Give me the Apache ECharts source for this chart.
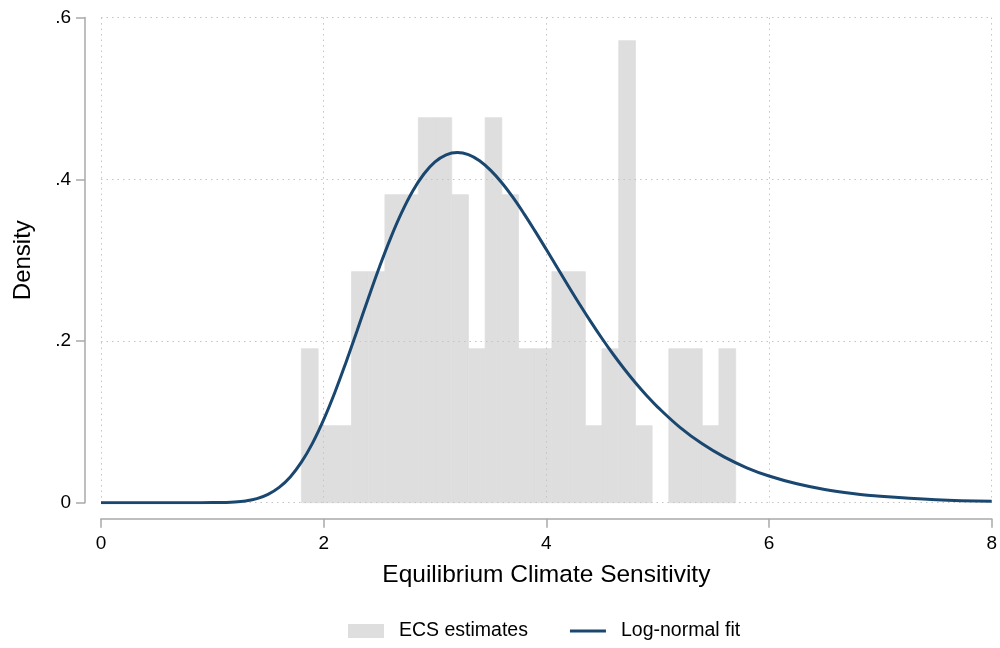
<!DOCTYPE html>
<html>
<head>
<meta charset="utf-8">
<script src="https://cdn.jsdelivr.net/npm/echarts@6/dist/echarts.min.js"></script>
<style>
  html, body { margin: 0; padding: 0; background: #fff; }
  #chart { width: 1000px; height: 648px; }
</style>
</head>
<body>
<div id="chart"></div>
<script>
// histogram of ECS estimates: left bin edges and counts (bin width .15)
var binLeft = [1.80, 1.95, 2.10, 2.25, 2.40, 2.55, 2.70, 2.85, 3.00, 3.15, 3.30, 3.45, 3.60,
               3.75, 3.90, 4.05, 4.20, 4.35, 4.50, 4.65, 4.80, 4.95, 5.10, 5.25, 5.40, 5.55];
var binCounts = [2, 1, 1, 3, 3, 4, 4, 5, 5, 4, 2, 5, 4,
                 2, 2, 3, 3, 1, 2, 6, 1, 0, 2, 2, 1, 2];
var binWidth = 0.15;

// log-normal fit
var fitX = [0, 0.5, 0.8, 1.0, 1.1, 1.2, 1.3, 1.4, 1.5, 1.6, 1.7, 1.8, 1.9, 2.0, 2.1, 2.2, 2.3, 2.4,
            2.5, 2.6, 2.7, 2.8, 2.9, 3.0, 3.1, 3.2, 3.3, 3.4, 3.5, 3.6, 3.7, 3.8, 3.9, 4.0, 4.1,
            4.2, 4.3, 4.4, 4.5, 4.6, 4.7, 4.8, 4.9, 5.0, 5.2, 5.4, 5.6, 5.8, 6.0, 6.25, 6.5,
            6.75, 7.0, 7.5, 8.0];
var fitY = [0, 0, 0, 0.0001, 0.0003, 0.0008, 0.0022, 0.0050, 0.0103, 0.0189, 0.0319, 0.0501,
            0.0737, 0.1027, 0.1363, 0.1735, 0.2128, 0.2526, 0.2912, 0.3270, 0.3588, 0.3856,
            0.4066, 0.4215, 0.4303, 0.4331, 0.4305, 0.4229, 0.4110, 0.3957, 0.3776, 0.3573,
            0.3356, 0.3131, 0.2903, 0.2675, 0.2452, 0.2237, 0.2031, 0.1836, 0.1654, 0.1484,
            0.1327, 0.1183, 0.0932, 0.0728, 0.0563, 0.0432, 0.0330, 0.0234, 0.0164, 0.0115,
            0.0080, 0.0038, 0.0018];

var xTicks = [0, 2, 4, 6, 8];
var yTicks = [0, 0.2, 0.4, 0.6];

var total = binCounts.reduce(function (a, b) { return a + b; }, 0);
var histData = [];
for (var i = 0; i < binLeft.length; i++) {
  if (binCounts[i] > 0) {
    histData.push([binLeft[i], binLeft[i] + binWidth, binCounts[i] / (total * binWidth)]);
  }
}
var fitData = fitX.map(function (x, i) { return [x, fitY[i]]; });

var font = 'Helvetica, "Liberation Sans", Arial, sans-serif';
var barColor = '#dedede';
var lineColor = '#1a476f';
var axisGray = '#a9a9a9';
var gridStyle = { color: '#c4c4c4', width: 1, type: [1.5, 4] };
// plain line icon for the legend (tiny corner marks keep the 36x14 box unscaled)
var lineIcon = 'path://M0,0 L0.01,0 L0,0.01 Z M0,5.5 L36,5.5 L36,8.5 L0,8.5 Z M36,14 L35.99,14 L36,13.99 Z';

var myChart = echarts.init(document.getElementById('chart'));
var option = {
  animation: false,
  backgroundColor: '#fff',
  textStyle: { fontFamily: font },
  grid: { left: 101, right: 6, top: 17.6, bottom: 145.3 },
  xAxis: {
    type: 'value',
    min: xTicks[0],
    max: xTicks[xTicks.length - 1],
    interval: 2,
    offset: 16,
    z: 3,
    name: 'Equilibrium Climate Sensitivity',
    nameLocation: 'middle',
    nameGap: 44,
    nameTextStyle: { fontSize: 24.5, color: '#000', fontFamily: font },
    axisLine: { show: true, onZero: false, lineStyle: { color: axisGray, width: 1.5 } },
    axisTick: { show: true, length: 9, lineStyle: { color: axisGray, width: 1.5 } },
    axisLabel: { fontSize: 19, color: '#000', margin: 16, fontFamily: font },
    splitLine: { show: true, lineStyle: gridStyle }
  },
  yAxis: {
    type: 'value',
    min: yTicks[0],
    max: yTicks[yTicks.length - 1],
    interval: 0.2,
    offset: 16,
    z: 3,
    name: 'Density',
    nameLocation: 'middle',
    nameGap: 50,
    nameTextStyle: { fontSize: 24, color: '#000', fontFamily: font },
    axisLine: { show: true, onZero: false, lineStyle: { color: axisGray, width: 1.5 } },
    axisTick: { show: true, length: 9, lineStyle: { color: axisGray, width: 1.5 } },
    axisLabel: {
      fontSize: 19, color: '#000', margin: 14, fontFamily: font,
      formatter: function (v) {
        if (Math.abs(v) < 1e-9) return '0';
        return v.toFixed(1).replace(/^0/, '');
      }
    },
    splitLine: { show: true, lineStyle: gridStyle }
  },
  legend: {
    left: 348,
    top: 621,
    padding: 0,
    itemWidth: 36,
    itemHeight: 14,
    itemGap: 42,
    textStyle: { fontSize: 19.5, color: '#000', fontFamily: font, padding: [0, 0, 0, 10] },
    data: [
      { name: 'ECS estimates', icon: 'rect' },
      { name: 'Log-normal fit', icon: lineIcon }
    ]
  },
  series: [
    {
      name: 'ECS estimates',
      type: 'custom',
      z: 2,
      itemStyle: { color: barColor },
      encode: { x: [0, 1], y: 2 },
      data: histData,
      renderItem: function (params, api) {
        var p0 = api.coord([api.value(0), api.value(2)]);
        var p1 = api.coord([api.value(1), 0]);
        return {
          type: 'rect',
          shape: { x: p0[0], y: p0[1], width: p1[0] - p0[0], height: p1[1] - p0[1] },
          style: { fill: barColor, stroke: barColor, lineWidth: 0.8 }
        };
      }
    },
    {
      name: 'Log-normal fit',
      type: 'line',
      z: 5,
      symbol: 'none',
      smooth: 0.4,
      lineStyle: { color: lineColor, width: 3 },
      itemStyle: { color: lineColor },
      data: fitData
    }
  ]
};
option && myChart.setOption(option);
</script>
</body>
</html>
